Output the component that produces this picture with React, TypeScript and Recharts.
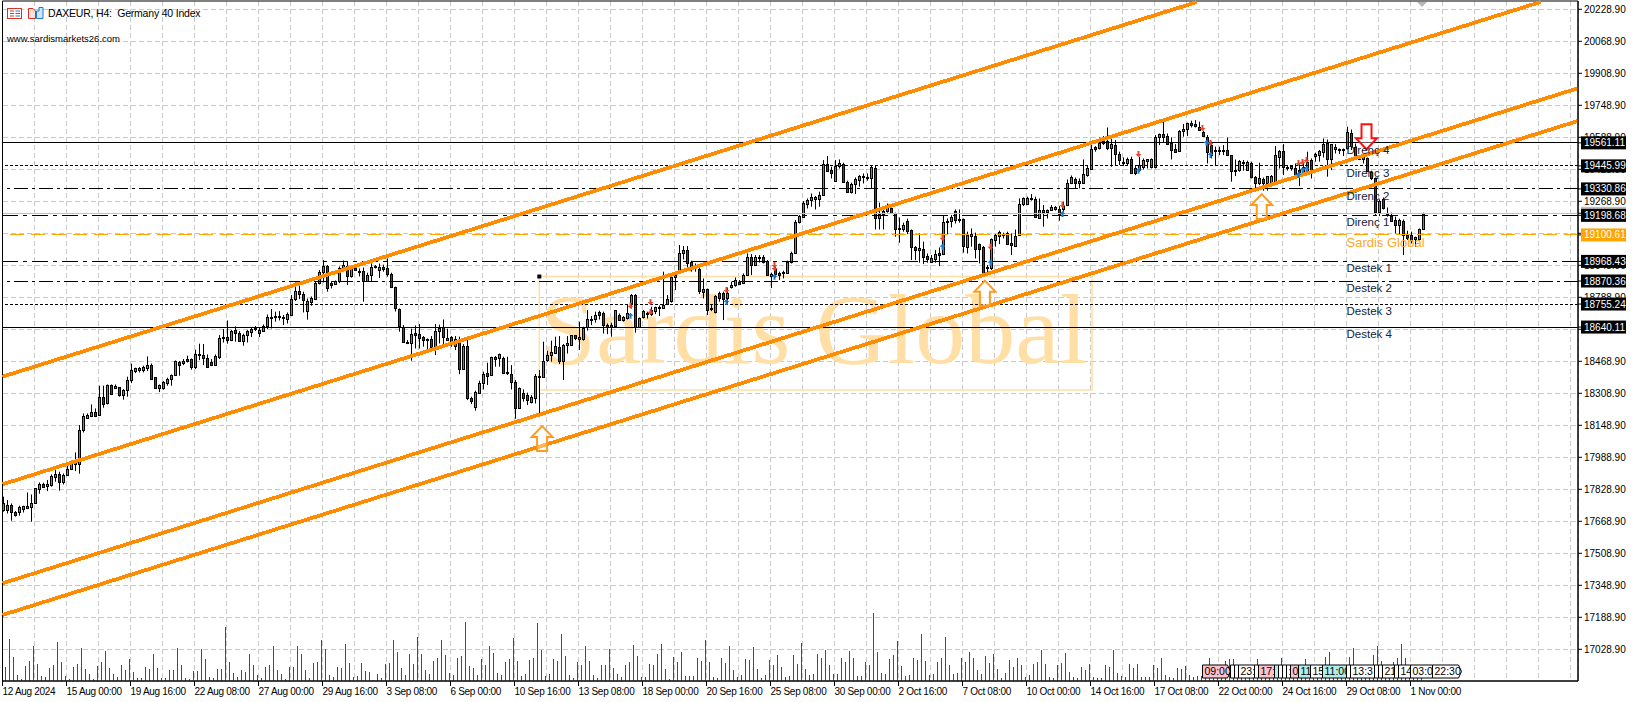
import { ComposedChart, Bar, XAxis, YAxis, CartesianGrid, ReferenceLine, ReferenceDot, ReferenceArea } from "recharts"

const W = 1634
const H = 702
const FONT = "'Liberation Sans', Arial, sans-serif"

const opens = [
  17725,17725,17750,17713,17713,17732,17735,17742,17758,17832,
  17855,17843,17852,17892,17903,17867,17902,17932,17953,17953,
  18123,18187,18193,18213,18198,18288,18258,18348,18337,18338,
  18302,18323,18373,18422,18427,18427,18437,18448,18388,18337,
  18337,18362,18382,18398,18467,18458,18478,18480,18442,18498,
  18498,18483,18463,18452,18492,18583,18588,18577,18623,18608,
  18572,18598,18617,18630,18612,18622,18647,18683,18688,18688,
  18690,18682,18702,18778,18818,18805,18722,18767,18778,18858,
  18913,18945,18860,18853,18868,18937,18943,18897,18937,18917,
  18920,18872,18898,18938,18925,18938,18937,18905,18838,18728,
  18642,18562,18558,18610,18603,18588,18573,18578,18538,18620,
  18638,18575,18588,18545,18582,18432,18545,18283,18242,18312,
  18358,18408,18402,18490,18483,18485,18408,18407,18363,18237,
  18310,18300,18267,18287,18390,18392,18473,18500,18512,18542,
  18472,18552,18552,18598,18582,18578,18638,18677,18682,18715,
  18712,18648,18652,18647,18698,18675,18685,18762,18800,18642,
  18688,18705,18725,18722,18737,18737,18755,18772,18888,18922,
  19008,19023,18965,18935,18930,18817,18828,18730,18717,18808,
  18808,18783,18842,18848,18867,18858,18902,18988,18948,18987,
  18992,18968,18897,18928,18908,18908,18912,18963,19008,19163,
  19192,19257,19275,19280,19280,19302,19453,19425,19368,19443,
  19457,19367,19317,19353,19375,19388,19392,19383,19433,19183,
  19205,19222,19233,19208,19128,19128,19172,19125,19038,19025,
  19028,18995,18967,18982,19012,19005,19163,19168,19220,19173,
  19178,19042,19097,19097,19053,19042,18937,18933,19075,19097,
  19098,19112,19058,19045,19098,19253,19255,19285,19282,19187,
  19217,19217,19223,19228,19230,19228,19248,19358,19378,19358,
  19362,19402,19432,19540,19537,19562,19572,19537,19550,19505,
  19458,19462,19480,19435,19425,19438,19472,19442,19438,19592,
  19603,19595,19558,19528,19518,19618,19628,19658,19655,19642,
  19617,19592,19550,19520,19518,19525,19525,19498,19418,19425,
  19465,19425,19462,19388,19362,19382,19358,19362,19362,19492,
  19520,19433,19435,19435,19425,19417,19422,19475,19495,19498,
  19517,19558,19482,19532,19525,19525,19533,19608,19542,19488,
  19482,19483,19415,19383,19217,19278,19200,19195,19175,19152,
  19172,19100,19098,19078,19082,19128,
]

const closes = [
  17758,17750,17713,17700,17740,17743,17743,17760,17833,17855,
  17842,17853,17893,17905,17867,17900,17932,17953,17975,18123,
  18193,18198,18213,18197,18288,18257,18348,18303,18343,18302,
  18323,18373,18423,18433,18433,18438,18448,18382,18337,18348,
  18363,18382,18398,18468,18452,18470,18468,18442,18503,18503,
  18487,18442,18450,18495,18583,18588,18577,18618,18608,18570,
  18598,18620,18630,18637,18625,18647,18690,18690,18695,18693,
  18685,18703,18778,18822,18803,18777,18768,18785,18858,18913,
  18945,18837,18850,18868,18937,18948,18897,18937,18927,18922,
  18872,18898,18938,18945,18938,18928,18907,18838,18733,18645,
  18567,18567,18605,18602,18587,18573,18578,18538,18620,18635,
  18588,18583,18565,18582,18432,18545,18287,18272,18313,18358,
  18407,18397,18488,18478,18503,18412,18415,18367,18237,18333,
  18283,18275,18290,18393,18395,18470,18500,18517,18545,18472,
  18552,18558,18598,18583,18588,18633,18678,18682,18702,18702,
  18650,18642,18642,18723,18677,18688,18708,18800,18638,18683,
  18718,18712,18705,18738,18742,18752,18780,18888,18900,19008,
  19025,18962,18942,18942,18818,18828,18725,18737,18797,18785,
  18782,18808,18848,18873,18857,18900,18988,18948,18988,18992,
  18965,18902,18903,18905,18898,18915,18967,19008,19163,19195,
  19258,19277,19288,19288,19302,19453,19422,19408,19445,19458,
  19367,19317,19355,19378,19395,19395,19383,19438,19183,19205,
  19218,19233,19208,19128,19135,19150,19122,19042,19025,19035,
  18992,18982,18983,19005,19002,19163,19170,19190,19175,19178,
  19045,19100,19103,19028,19028,18912,18942,19078,19100,19113,
  19105,19055,19048,19097,19255,19283,19283,19278,19192,19225,
  19225,19223,19238,19238,19205,19245,19358,19388,19358,19370,
  19405,19433,19528,19528,19562,19572,19537,19553,19503,19475,
  19467,19478,19408,19412,19450,19475,19478,19478,19592,19603,
  19592,19555,19525,19517,19618,19628,19658,19648,19645,19625,
  19595,19517,19500,19525,19525,19518,19498,19422,19425,19468,
  19458,19467,19388,19362,19383,19358,19393,19395,19500,19520,
  19438,19442,19445,19402,19400,19442,19467,19422,19503,19520,
  19555,19478,19553,19542,19528,19530,19613,19545,19495,19482,
  19488,19418,19383,19217,19272,19233,19205,19172,19152,19175,
  19100,19083,19075,19088,19128,19205,
]

const highs = [
  17792,17775,17758,17720,17747,17747,17813,17803,17833,17863,
  17862,17875,17903,17925,17917,17908,17950,17972,18013,18150,
  18208,18208,18253,18233,18347,18347,18353,18353,18353,18340,
  18330,18392,18457,18437,18440,18447,18493,18458,18390,18353,
  18370,18387,18403,18473,18470,18480,18497,18483,18527,18557,
  18555,18503,18480,18503,18600,18630,18673,18625,18643,18620,
  18607,18625,18637,18645,18637,18653,18703,18730,18717,18720,
  18700,18713,18800,18863,18847,18817,18783,18793,18867,18925,
  18975,18950,18870,18873,18943,18973,18967,18947,18950,18933,
  18938,18912,18958,18950,18958,18952,18983,18912,18842,18733,
  18650,18575,18632,18648,18655,18595,18583,18595,18655,18652,
  18678,18632,18595,18595,18592,18555,18592,18292,18322,18372,
  18417,18462,18492,18495,18508,18492,18492,18450,18375,18338,
  18328,18312,18300,18405,18425,18567,18522,18572,18592,18595,
  18555,18595,18600,18600,18667,18642,18725,18695,18717,18722,
  18717,18658,18662,18725,18708,18695,18750,18805,18805,18688,
  18725,18717,18742,18742,18748,18917,18800,18892,18917,19050,
  19045,19045,18972,18958,18938,18883,18833,18750,18800,18817,
  18817,18838,18867,18888,18875,18908,19008,19005,19000,19000,
  19000,18975,18912,18942,18917,18922,18972,19017,19175,19200,
  19270,19283,19308,19295,19317,19475,19495,19442,19475,19478,
  19462,19372,19362,19388,19400,19408,19408,19450,19445,19262,
  19242,19258,19245,19212,19188,19162,19182,19128,19045,19108,
  19067,19008,19000,19025,19038,19200,19183,19200,19228,19228,
  19183,19117,19133,19112,19058,19045,18950,19083,19105,19122,
  19112,19117,19108,19128,19283,19288,19292,19305,19292,19283,
  19250,19228,19250,19245,19245,19267,19378,19398,19388,19383,
  19478,19445,19558,19545,19588,19595,19638,19588,19575,19517,
  19488,19488,19492,19445,19492,19483,19478,19483,19600,19608,
  19672,19608,19588,19555,19625,19655,19662,19672,19675,19667,
  19622,19600,19567,19542,19542,19550,19588,19500,19478,19475,
  19475,19472,19467,19395,19462,19388,19395,19400,19545,19525,
  19555,19450,19450,19458,19458,19467,19517,19483,19512,19525,
  19583,19578,19555,19555,19533,19533,19642,19628,19558,19500,
  19492,19488,19422,19388,19278,19288,19238,19212,19192,19182,
  19178,19122,19117,19092,19133,19212,
]

const lows = [
  17717,17708,17672,17692,17697,17713,17730,17667,17757,17807,
  17837,17820,17842,17867,17822,17853,17897,17925,17920,17907,
  18113,18183,18190,18190,18197,18237,18253,18300,18330,18292,
  18277,18292,18360,18410,18413,18413,18420,18377,18335,18315,
  18327,18347,18347,18397,18397,18450,18463,18427,18430,18475,
  18450,18437,18445,18447,18480,18563,18557,18570,18567,18567,
  18547,18563,18590,18620,18590,18620,18630,18633,18667,18673,
  18650,18658,18697,18770,18780,18713,18677,18747,18775,18853,
  18863,18817,18833,18850,18860,18933,18850,18887,18925,18893,
  18767,18867,18867,18933,18885,18917,18892,18835,18718,18617,
  18562,18555,18472,18533,18533,18542,18528,18528,18500,18558,
  18550,18575,18542,18525,18405,18428,18275,18255,18222,18308,
  18328,18350,18398,18442,18442,18405,18400,18328,18182,18233,
  18267,18250,18258,18258,18205,18388,18467,18467,18512,18455,
  18375,18508,18550,18575,18525,18572,18622,18650,18662,18678,
  18608,18605,18592,18642,18672,18667,18678,18733,18612,18638,
  18683,18683,18695,18705,18695,18733,18750,18762,18825,18917,
  18978,18938,18917,18917,18805,18783,18700,18720,18708,18767,
  18675,18758,18833,18842,18850,18855,18900,18900,18945,18962,
  18958,18900,18835,18888,18875,18883,18908,18958,19005,19158,
  19188,19233,19242,19228,19242,19295,19417,19383,19367,19433,
  19362,19312,19308,19305,19342,19358,19372,19333,19128,19128,
  19128,19212,19205,19092,19062,19117,19105,18975,18975,18962,
  18955,18962,18962,18962,18945,19000,19100,19138,19158,19162,
  19012,19008,19042,18983,18958,18900,18908,18925,19042,19055,
  19083,19050,19000,19042,19095,19245,19250,19272,19188,19183,
  19142,19183,19222,19222,19172,19217,19245,19355,19333,19333,
  19358,19392,19428,19517,19528,19550,19525,19442,19445,19450,
  19445,19450,19405,19400,19417,19428,19433,19433,19433,19550,
  19562,19550,19478,19512,19517,19592,19595,19638,19638,19625,
  19592,19458,19483,19445,19500,19500,19495,19367,19395,19417,
  19422,19422,19383,19328,19350,19322,19322,19358,19358,19433,
  19400,19422,19422,19395,19345,19405,19417,19383,19467,19467,
  19488,19392,19425,19508,19505,19495,19528,19525,19488,19475,
  19458,19417,19375,19200,19195,19228,19192,19167,19108,19105,
  19000,19075,19058,19042,19072,19125,
]

const volumes = [
  8,14,42,24,6,2,15,20,35,17,
  5,4,13,16,39,19,5,2,14,17,
  33,12,7,2,15,19,30,13,7,4,
  16,11,22,9,3,3,14,12,27,13,
  3,3,11,11,33,16,3,2,10,10,
  32,22,4,3,12,12,54,19,8,4,
  11,9,27,16,6,3,14,16,35,11,
  7,2,14,14,35,27,11,3,18,19,
  41,32,6,4,14,13,37,18,4,5,
  18,10,9,1,7,3,17,18,41,29,
  13,6,27,17,44,27,11,7,20,23,
  41,26,8,6,23,25,59,15,13,6,
  22,16,35,28,8,6,19,22,43,20,
  5,7,21,23,58,31,5,7,22,20,
  47,25,6,3,19,16,35,20,6,3,
  16,16,32,13,7,4,16,19,36,25,
  4,4,17,16,27,37,12,2,24,19,
  29,5,5,5,23,20,41,19,4,3,
  23,18,35,11,4,6,22,21,34,12,
  3,6,21,16,26,14,4,5,26,17,
  38,12,6,7,27,23,31,16,7,7,
  23,19,30,23,5,5,19,16,68,29,
  8,7,22,26,40,15,5,6,23,21,
  47,20,6,7,19,23,44,16,7,8,
  23,19,29,23,11,7,25,18,27,12,
  3,8,21,14,23,16,4,6,17,19,
  31,17,4,3,16,18,28,9,4,3,
  14,11,17,4,3,3,16,14,31,8,
  5,4,17,13,17,4,4,4,16,13,
  23,6,4,3,13,12,15,6,4,5,
  5,12,23,9,6,11,20,22,22,5,
  11,6,4,8,22,5,11,4,9,5,
  23,5,8,3,9,5,22,6,10,4,
  8,24,29,6,4,11,5,24,33,6,
  4,5,9,26,35,20,6,10,19,23,
  37,23,8,5,4,4,
]

const timeLabels = [
  "12 Aug 2024", "15 Aug 00:00", "19 Aug 16:00", "22 Aug 08:00", "27 Aug 00:00", "29 Aug 16:00",
  "3 Sep 08:00", "6 Sep 00:00", "10 Sep 16:00", "13 Sep 08:00", "18 Sep 00:00", "20 Sep 16:00",
  "25 Sep 08:00", "30 Sep 00:00", "2 Oct 16:00", "7 Oct 08:00", "10 Oct 00:00", "14 Oct 16:00",
  "17 Oct 08:00", "22 Oct 00:00", "24 Oct 16:00", "29 Oct 08:00", "1 Nov 00:00",
]

const priceTicks = [
  20228.9, 20068.9, 19908.9, 19748.9, 19588.9, 19428.9, 19268.9, 19108.9, 18948.9, 18788.9, 18628.9,
  18468.9, 18308.9, 18148.9, 17988.9, 17828.9, 17668.9, 17508.9, 17348.9, 17188.9, 17028.9,
]

const bidPrice = 19208.9

const levels = [
  { price: 19561.11, dash: undefined, color: "#000" },
  { price: 19445.99, dash: "3 2", color: "#000" },
  { price: 19330.86, dash: "14 4 3 4", color: "#000" },
  { price: 19198.68, dash: "16 5 4 5", color: "#000" },
  { price: 19100.61, dash: "14 7", color: "#ffa500" },
  { price: 18968.43, dash: "16 5 4 5", color: "#000" },
  { price: 18870.36, dash: "14 4 3 4", color: "#000" },
  { price: 18755.24, dash: "3 2", color: "#000" },
  { price: 18640.11, dash: undefined, color: "#000" },
]

const levelNotes = [
  { text: "Direnç 4", price: 19525 },
  { text: "Direnç 3", price: 19410 },
  { text: "Direnç 2", price: 19295 },
  { text: "Direnç 1", price: 19165 },
  { text: "Sardis Global", price: 19065 },
  { text: "Destek 1", price: 18935 },
  { text: "Destek 2", price: 18835 },
  { text: "Destek 3", price: 18720 },
  { text: "Destek 4", price: 18605 },
]

const channels = [
  [0, 18391.9, 298.6, 20265.4],
  [0, 17853.9, 384.6, 20266],
  [0, 17358.9, 393.8, 19833.9],
  [0, 17200.4, 393.8, 19670.4],
]

const sellMarks = [
  [157, 18747], [162, 18765], [162, 18717], [181, 18825], [193, 18950], [193, 18935], [235, 19087],
  [247, 19042], [265, 19250], [284, 19505], [300, 19635], [302, 19560], [324, 19460], [325, 19465], [326, 19475],
]
const buyMarks = [
  [157, 18697], [181, 18765], [193, 18892], [235, 19042], [247, 18962], [265, 19205], [284, 19422],
  [301, 19560], [302, 19500], [324, 19400], [325, 19425], [326, 19430],
]
const bigArrows = [
  { bar: 134.9, price: 18145, up: true },
  { bar: 245.6, price: 18872, up: true },
  { bar: 314.8, price: 19305, up: true },
  { bar: 341, price: 19529, up: false },
]

const eventTags = [
  { bar: 300, text: "09:00", kind: "high" },
  { bar: 307, text: "", kind: "none" },
  { bar: 308, text: "", kind: "none" },
  { bar: 309, text: "23:", kind: "none" },
  { bar: 313, text: "", kind: "none" },
  { bar: 314, text: "17:", kind: "high" },
  { bar: 318, text: "", kind: "low" },
  { bar: 319, text: "", kind: "none" },
  { bar: 320, text: "", kind: "none" },
  { bar: 321, text: ":", kind: "none" },
  { bar: 322, text: "0", kind: "high" },
  { bar: 324, text: "11", kind: "low" },
  { bar: 327, text: "15", kind: "none" },
  { bar: 330, text: "11:00", kind: "low" },
  { bar: 336, text: "", kind: "none" },
  { bar: 337, text: "13:3", kind: "none" },
  { bar: 343, text: "", kind: "none" },
  { bar: 344, text: "", kind: "none" },
  { bar: 345, text: "21", kind: "none" },
  { bar: 348, text: "", kind: "none" },
  { bar: 349, text: "14", kind: "none" },
  { bar: 352, text: "03:0", kind: "none" },
  { bar: 357.5, text: "22:30", kind: "none" },
]
const tagFill: Record<string, string> = { high: "#ffc0cb", low: "#afeeee", none: "#ffffff" }

const rows = opens.map((open, i) => ({
  bar: i,
  open,
  close: closes[i],
  high: highs[i],
  low: lows[i],
  range: [lows[i], highs[i]],
  volume: volumes[i],
}))

const xTicks = Array.from({ length: 50 }, (_, k) => k * 8)

// price scale ticks first, tags after them so they paint on top
const yTicks = [...priceTicks, bidPrice, ...levels.map((l) => l.price)]

function Candle(props: any) {
  const { x, y, width, height, payload } = props
  const cx = Math.floor(x + width / 2) + 0.5
  const k = height / Math.max(payload.high - payload.low, 1)
  const top = Math.round(y + (payload.high - Math.max(payload.open, payload.close)) * k) + 0.5
  const bottom = Math.round(y + (payload.high - Math.min(payload.open, payload.close)) * k) + 0.5
  const up = payload.close >= payload.open
  return (
    <g>
      <line x1={cx} x2={cx} y1={y} y2={y + height} stroke="#000" strokeWidth={1} />
      <rect x={cx - 1} y={top} width={2} height={Math.max(bottom - top, 1)} fill={up ? "#00d800" : "#e80000"} stroke="#000" strokeWidth={1} />
    </g>
  )
}

function TimeTick(props: any) {
  const { x, y, payload } = props
  const label = payload.value % 16 === 0 ? timeLabels[payload.value / 16] : null
  if (!label) return null
  return (
    <g>
      <line x1={x} x2={x} y1={y - 8} y2={y - 3} stroke="#000" />
      <text x={x} y={y + 6} fontSize={10} letterSpacing={-0.3} fontFamily={FONT} fill="#000">{label}</text>
    </g>
  )
}

function PriceTick(props: any) {
  const { x, y, payload } = props
  const v = payload.value
  const level = levels.find((l) => l.price === v)
  const isBid = v === bidPrice
  if (!level && !isBid) {
    return <text x={x} y={y + 3.5} fontSize={10} fontFamily={FONT} fill="#000">{v.toFixed(2)}</text>
  }
  const fill = isBid ? "#c0c0c0" : level!.color
  return (
    <g>
      <rect x={x - 3} y={y - 6.5} width={45} height={13} fill={fill} />
      <text x={x} y={y + 3.5} fontSize={10} fontFamily={FONT} fill="#fff">{v.toFixed(2)}</text>
    </g>
  )
}

function TradeArrow({ cx, cy, up, color }: any) {
  const d = up ? -1 : 1
  const pts = [[-1, -3], [1, -3], [1, 0], [3, 0], [0, 3], [-3, 0], [-1, 0]]
  return <polygon points={pts.map(([a, b]) => `${cx + a},${cy + b * d}`).join(" ")} fill={color} />
}

function BigArrow({ cx, cy, up }: any) {
  const d = up ? 1 : -1
  const pts = [[0, 0], [10.5, 11], [5, 11], [5, 25], [-5, 25], [-5, 11], [-10.5, 11]]
  return (
    <polygon
      points={pts.map(([a, b]) => `${cx + a},${cy + b * d}`).join(" ")}
      fill="#fff"
      fillOpacity={0.35}
      stroke={up ? "#ff9a1f" : "#ff1010"}
      strokeWidth={2}
    />
  )
}

function EventTag({ cx, cy, text, kind, width, pointed }: any) {
  const l = cx
  const r = cx + width
  const t = cy - 6.5
  const b = cy + 6.5
  const path = pointed
    ? `M${l},${t}H${r - 3}L${r},${cy}L${r - 3},${b}H${l}Z`
    : `M${l},${t}H${r}V${b}H${l}Z`
  return (
    <g>
      <path d={path} fill={tagFill[kind]} stroke="#000" strokeWidth={1} />
      <text x={l + 2} y={cy + 3.5} fontSize={10.5} fontFamily={FONT} fill="#000">{text}</text>
    </g>
  )
}

function Watermark(props: any) {
  const { x, y, width, height } = props
  return (
    <g>
      <rect x={x} y={y} width={width} height={height} fill="none" stroke="#ffdfa6" strokeWidth={1.5} />
      <text x={x + 1} y={y + 86} fontSize={100} fontFamily="'Liberation Serif', serif" fill="#ffdfa6">Sardis Global</text>
      <rect x={x - 2} y={y - 2} width={4} height={4} fill="#000" />
    </g>
  )
}

export default function App() {
  return (
    <div style={{ position: "absolute", left: 0, top: 0, width: W, height: H, background: "#fff", overflow: "hidden" }}>
      <ComposedChart width={W} height={H} data={rows} margin={{ top: 1, right: 0, bottom: 0, left: 2.5 }}>
        <CartesianGrid stroke="#c8c8c8" strokeDasharray="5 3" horizontalValues={priceTicks} shapeRendering="crispEdges" />
        <ReferenceArea
          x1={134.2}
          x2={272.4}
          y1={18325.4}
          y2={18892.9}
          ifOverflow="visible"
          shape={<Watermark />}
        />
        <XAxis
          dataKey="bar"
          type="number"
          domain={[0, 393.875]}
          ticks={xTicks}
          interval={0}
          height={21}
          tick={<TimeTick />}
          tickLine={false}
          axisLine={{ stroke: "#000" }}
          allowDataOverflow
        />
        <YAxis
          orientation="right"
          width={56}
          domain={[16870.4, 20270.4]}
          ticks={yTicks}
          interval={0}
          tickSize={4}
          tickMargin={2}
          tickLine={{ stroke: "#000" }}
          axisLine={{ stroke: "#000" }}
          tick={<PriceTick />}
          allowDataOverflow
        />
        <YAxis yAxisId="vol" hide domain={[0, 680]} allowDataOverflow />
        <Bar yAxisId="vol" dataKey="volume" barSize={1} fill="#008000" shapeRendering="crispEdges" isAnimationActive={false} />
        <Bar dataKey="range" barSize={3} shape={<Candle />} isAnimationActive={false} />
        <ReferenceArea x1={0} x2={393.875} y1={16870.4} y2={20270.4} fill="none" stroke="#000" ifOverflow="visible" />
        <ReferenceLine y={bidPrice} stroke="#c0c0c0" strokeWidth={1} shapeRendering="crispEdges" />
        {levels.map((l) => (
          <ReferenceLine
            key={l.price}
            y={l.price}
            stroke={l.color}
            strokeWidth={1}
            strokeDasharray={l.dash}
            shapeRendering="crispEdges"
          />
        ))}
        {channels.map(([a, b, c, d]) => (
          <ReferenceLine
            key={b}
            segment={[{ x: a, y: b }, { x: c, y: d }]}
            stroke="#ff8c00"
            strokeWidth={3.8}
            shapeRendering="crispEdges"
          />
        ))}
        {sellMarks.map(([bar, price], i) => (
          <ReferenceDot key={`s${i}`} x={bar} y={price} shape={(p: any) => <TradeArrow cx={p.cx} cy={p.cy} up={false} color="#e64a2e" />} />
        ))}
        {buyMarks.map(([bar, price], i) => (
          <ReferenceDot key={`b${i}`} x={bar} y={price} shape={(p: any) => <TradeArrow cx={p.cx} cy={p.cy} up color="#1f78c8" />} />
        ))}
        {bigArrows.map((a) => (
          <ReferenceDot key={a.bar} x={a.bar} y={a.price} shape={(p: any) => <BigArrow cx={p.cx} cy={p.cy} up={a.up} />} />
        ))}
        {levelNotes.map((n) => (
          <ReferenceDot
            key={n.text}
            x={336}
            y={n.price}
            shape={(p: any) => (
              <text x={p.cx} y={p.cy} fontSize={n.text === "Sardis Global" ? 13 : 11.5} fontFamily={FONT} fill={n.text === "Sardis Global" ? "#ffa726" : "#14233c"} dominantBaseline="central">
                {n.text}
              </text>
            )}
          />
        ))}
        {eventTags.map((t, i) => {
          const next = eventTags[i + 1]
          const width = next ? Math.min((next.bar - t.bar) * 4, 28) : 29
          return (
            <ReferenceDot
              key={`${t.bar}`}
              yAxisId="vol"
              x={t.bar}
              y={9.5}
              shape={(p: any) => <EventTag cx={p.cx} cy={p.cy} text={t.text} kind={t.kind} width={width} pointed={width >= 27} />}
            />
          )
        })}
      </ComposedChart>
      <svg style={{ position: "absolute", left: 0, top: 0 }} width={W} height={H}>
        <rect x={7.5} y={8.5} width={14} height={10} fill="#fff" stroke="#d93025" />
        <path d="M10,11H14M10,13.5H14M10,16H14" stroke="#d93025" />
        <path d="M15.5,11H20M15.5,13.5H20M15.5,16H20" stroke="#1f78c8" />
        <path d="M28.5,8.5H33L35.5,11V18.5H28.5Z" fill="#fde0d8" stroke="#d93025" />
        <path d="M36.5,11V18.5H43V7.5H39V11Z" fill="#cfe6fa" stroke="#1f78c8" />
        <polygon points="1417,2 1427,2 1422,7" fill="#b8b8b8" />
        <text x={48} y={17} fontSize={10.5} letterSpacing={-0.2} fontFamily={FONT} fill="#000">{"DAXEUR, H4:\u00a0 Germany 40 Index"}</text>
        <text x={7} y={42} fontSize={9.5} fontFamily={FONT} fill="#000">www.sardismarkets26.com</text>
      </svg>
    </div>
  )
}
